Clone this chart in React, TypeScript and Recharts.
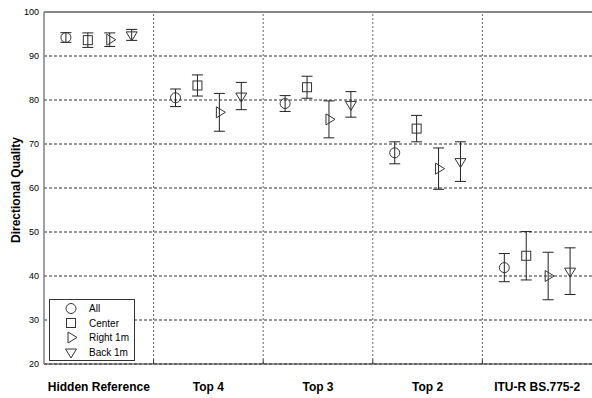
import {
  ScatterChart,
  Scatter,
  XAxis,
  YAxis,
  CartesianGrid,
  ErrorBar,
  ReferenceLine,
  Legend,
} from 'recharts';

// categories along the x axis
const categories = ['Hidden Reference', 'Top 4', 'Top 3', 'Top 2', 'ITU-R BS.775-2'];

// mean scores and half widths of the error bars, per condition
const allMean = [94.2, 80.5, 79.2, 68.0, 41.9];
const allErr = [1.1, 2.0, 1.8, 2.5, 3.2];
const centerMean = [93.6, 83.3, 82.9, 73.5, 44.6];
const centerErr = [1.65, 2.4, 2.5, 3.0, 5.5];
const rightMean = [93.7, 77.2, 75.6, 64.4, 40.0];
const rightErr = [1.55, 4.3, 4.2, 4.7, 5.4];
const backMean = [94.8, 80.9, 79.0, 66.0, 41.1];
const backErr = [1.25, 3.1, 2.9, 4.5, 5.3];

const yTicks = [20, 30, 40, 50, 60, 70, 80, 90, 100];
const dividers = [1, 2, 3, 4];

const FONT = 'Arial, "Liberation Sans", sans-serif';
const INK = '#333';

// horizontal spread of the four conditions inside a category
const offsets = [-0.3, -0.1, 0.1, 0.3];

const toPoints = (means: number[], errs: number[], k: number) =>
  means.map((y, i) => ({ x: i + 0.5 + offsets[k], y, err: errs[i] }));

const CircleMark = ({ cx, cy }: any) => (
  <circle cx={cx} cy={cy} r={5} fill="none" stroke={INK} />
);
const SquareMark = ({ cx, cy }: any) => (
  <rect x={cx - 4.5} y={cy - 4.5} width={9} height={9} fill="none" stroke={INK} />
);
const RightMark = ({ cx, cy }: any) => (
  <polygon
    points={`${cx - 3},${cy - 5.5} ${cx + 6},${cy} ${cx - 3},${cy + 5.5}`}
    fill="none"
    stroke={INK}
  />
);
const DownMark = ({ cx, cy }: any) => (
  <polygon
    points={`${cx - 5.5},${cy - 3} ${cx + 5.5},${cy - 3} ${cx},${cy + 6}`}
    fill="none"
    stroke={INK}
  />
);

const series = [
  { name: 'All', data: toPoints(allMean, allErr, 0), Mark: CircleMark },
  { name: 'Center', data: toPoints(centerMean, centerErr, 1), Mark: SquareMark },
  { name: 'Right 1m', data: toPoints(rightMean, rightErr, 2), Mark: RightMark },
  { name: 'Back 1m', data: toPoints(backMean, backErr, 3), Mark: DownMark },
];

function LegendBox() {
  return (
    <div style={{ border: '1px solid #333', background: '#fff', width: 84, height: 60 }}>
      <svg width={84} height={60} style={{ display: 'block' }}>
        {series.map((s, i) => {
          const y = 8.5 + i * 14.5;
          const { Mark } = s;
          return (
            <g key={s.name}>
              <Mark cx={21} cy={y} />
              <text
                x={39}
                y={y}
                dy="0.35em"
                fontSize={10}
                fontFamily={FONT}
                fill="#000"
              >
                {s.name}
              </text>
            </g>
          );
        })}
      </svg>
    </div>
  );
}

export default function App() {
  return (
    <div style={{ width: 592, height: 398, background: '#fff' }}>
      <style>{'body{margin:0}'}</style>
      <ScatterChart
        width={592}
        height={398}
        margin={{ top: 12, right: 0, bottom: 0, left: 0 }}
        style={{ fontFamily: FONT }}
      >
        <CartesianGrid vertical={false} stroke={INK} strokeDasharray="3 2" />
        <XAxis
          type="number"
          dataKey="x"
          domain={[0, 5]}
          ticks={[0.5, 1.5, 2.5, 3.5, 4.5]}
          interval={0}
          tickFormatter={(v: number) => categories[Math.floor(v)]}
          height={34}
          tickSize={0}
          tickMargin={18}
          tick={{ fontSize: 12, fontWeight: 'bold', fill: '#000' }}
          axisLine={{ stroke: '#333' }}
        />
        <YAxis
          type="number"
          dataKey="y"
          domain={[20, 100]}
          allowDataOverflow
          ticks={yTicks}
          interval={0}
          width={44}
          tickSize={0}
          tickMargin={5}
          tick={{ fontSize: 9, fill: '#000' }}
          axisLine={{ stroke: '#808080', strokeWidth: 1.5 }}
          label={{
            content: () => (
              <text
                x={16}
                y={190}
                transform="rotate(-90 16 190)"
                textAnchor="middle"
                dominantBaseline="central"
                fontSize={12}
                fontWeight="bold"
                fontFamily={FONT}
                fill="#000"
              >
                Directional Quality
              </text>
            ),
          }}
        />
        {dividers.map((d) => (
          <ReferenceLine key={d} x={d} stroke="#666" strokeDasharray="2 2" />
        ))}
        {dividers.map((d) => (
          <ReferenceLine
            key={'t' + d}
            segment={[{ x: d, y: 20 }, { x: d, y: 21 }]}
            stroke="#333"
          />
        ))}
        <ReferenceLine y={100} stroke="#888" strokeWidth={2} />
        {series.map((s) => (
          <Scatter
            key={s.name}
            name={s.name}
            data={s.data}
            shape={s.Mark}
            isAnimationActive={false}
          >
            <ErrorBar dataKey="err" direction="y" width={5.5} stroke="#222" strokeWidth={1} />
          </Scatter>
        ))}
        <Legend
          layout="vertical"
          align="center"
          verticalAlign="middle"
          content={() => <LegendBox />}
          wrapperStyle={{ left: 49, top: 299, width: 86, height: 62 }}
        />
      </ScatterChart>
    </div>
  );
}
